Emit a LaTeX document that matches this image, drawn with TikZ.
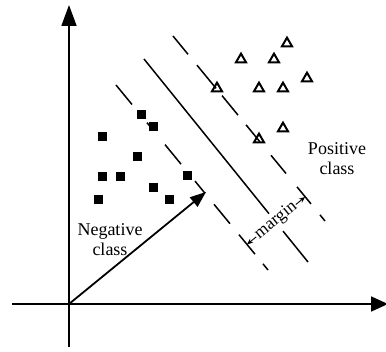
\documentclass[tikz,border=0pt]{standalone}
\usepackage{fontspec}
\setmainfont{Liberation Serif}
\usetikzlibrary{arrows.meta,shapes.geometric}
\begin{document}
\begin{tikzpicture}[x=1pt,y=-1pt,
  axis/.style={line width=1.8pt,-{Triangle[length=21pt,width=15pt]}},
  sepline/.style={line width=1.5pt},
  sq/.style={rectangle,fill=black,minimum size=9pt,inner sep=0pt},
  tri/.style={regular polygon,regular polygon sides=3,draw=black,line width=2pt,minimum size=11.5pt,inner sep=0pt,yshift=-1.4pt},
  lbl/.style={font=\fontsize{18}{20.5}\selectfont,align=center,inner sep=0pt},
  mlbl/.style={font=\fontsize{17.5}{19}\selectfont,fill=white,inner sep=0.8pt,rotate=39},
]
\useasboundingbox (0,0) rectangle (386,352);
% axes
\coordinate (O) at (69,304);
\coordinate (xs) at (12,304);
\coordinate (xe) at (388,304);
\coordinate (ys) at (69,347);
\coordinate (ye) at (69,5);
\draw[line width=1.8pt,-{Triangle[length=17pt,width=15pt]}] (xs) -- (xe);
\draw[axis] (ys) -- (ye);
% solid separating line (two pieces around the label)
\draw[sepline] (144,59) -- (269,213.7);
\draw[sepline] (283,231.1) -- (308,262);
% left dashed line
\draw[sepline] (116,85) -- (132,104.5);
\draw[sepline] (147,122.7) -- (151,127.6);
\draw[sepline] (165,144.6) -- (181,164.1);
\draw[sepline] (195,181.1) -- (205,193.3);
\draw[sepline] (214,204.3) -- (230,223.7);
\draw[sepline] (239,234.7) -- (255,254.2);
\draw[sepline] (263,263.9) -- (268,270);
% right dashed line
\draw[sepline] (173,36) -- (188,54.3);
\draw[sepline] (197,65.2) -- (216,88.3);
\draw[sepline] (222,95.6) -- (238,115.1);
\draw[sepline] (246,124.8) -- (260,141.9);
\draw[sepline] (271,155.3) -- (286,173.5);
\draw[sepline] (297,186.9) -- (311,203.9);
\draw[sepline] (320,214.9) -- (325,221);
% negative samples
\node[sq] (n1) at (141,115) {};
\node[sq] (n2) at (153,127) {};
\node[sq] (n3) at (102,137) {};
\node[sq] (n4) at (137,157) {};
\node[sq] (n5) at (102,177) {};
\node[sq] (n6) at (120,177) {};
\node[sq] (n7) at (187,176) {};
\node[sq] (n8) at (153,188) {};
\node[sq] (n9) at (98,200) {};
\node[sq] (n10) at (169,200) {};
% positive samples
\node[tri] (p1) at (287,42) {};
\node[tri] (p2) at (241,58) {};
\node[tri] (p3) at (274,58) {};
\node[tri] (p4) at (307,77) {};
\node[tri] (p5) at (217,87) {};
\node[tri] (p6) at (259,87) {};
\node[tri] (p7) at (283,87) {};
\node[tri] (p8) at (283,127) {};
\node[tri] (p9) at (259,138) {};
% weight vector
\coordinate (V) at (206,192);
\draw[line width=1.8pt,-{Triangle[length=16pt,width=12pt]}] (O) -- (V);
% margin
\coordinate (ml) at (247,244.4);
\coordinate (mr) at (305,197);
\draw[line width=0.9pt,{Stealth[length=6pt,width=5pt]}-{Stealth[length=6pt,width=5pt]}] (ml) -- (mr);
\node[mlbl] (mg) at (276,220.7) {margin};
% labels
\node[lbl] (neg) at (110,239.5) {Negative\\class};
\node[lbl] (pos) at (337,158.5) {Positive\\class};
\end{tikzpicture}
\end{document}
